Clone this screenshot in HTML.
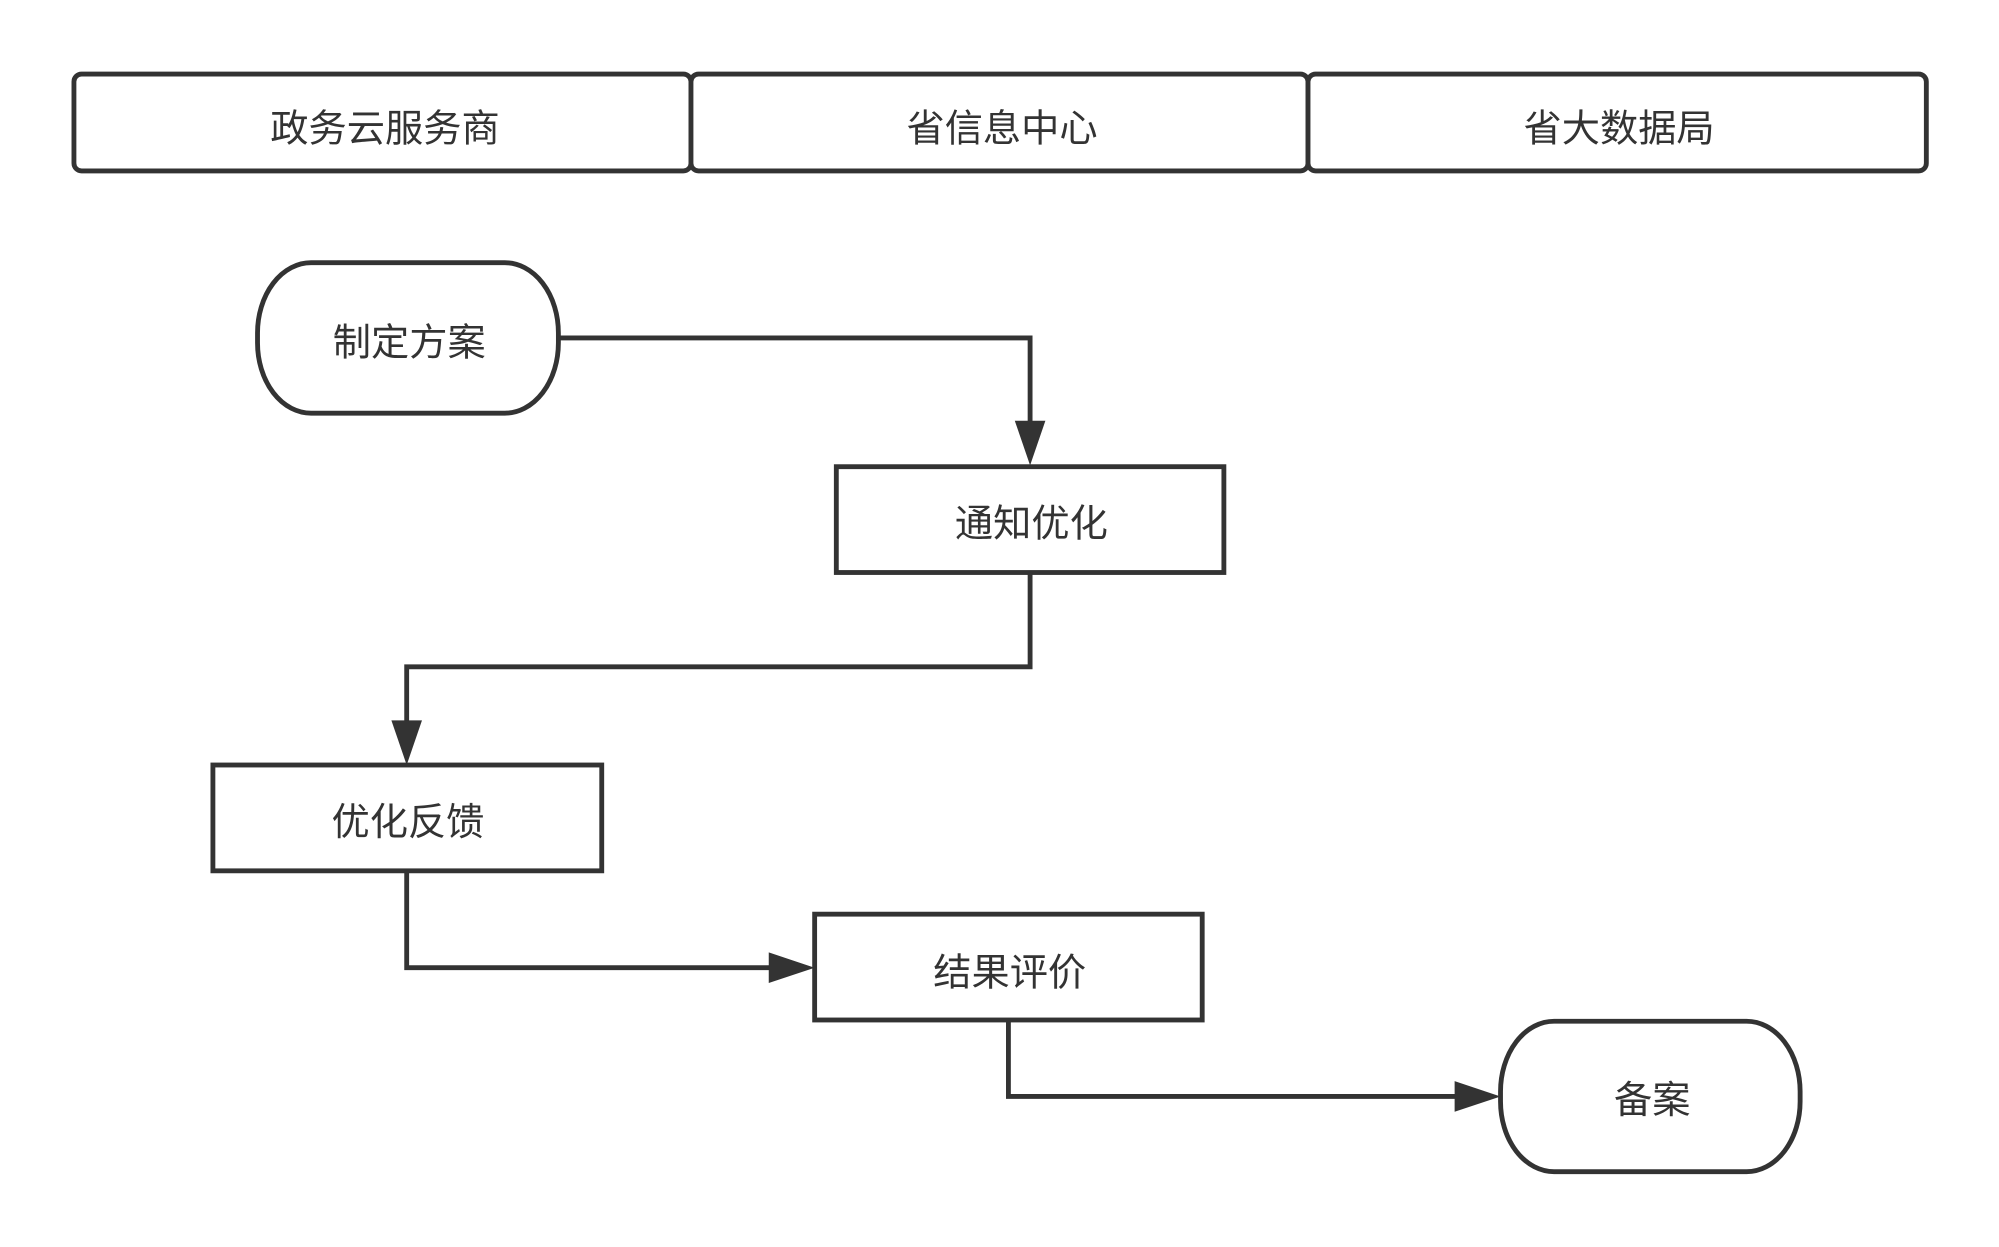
<!DOCTYPE html>
<html><head><meta charset="utf-8"><style>
html,body{margin:0;padding:0;background:#fff;}
svg{display:block;}
text{font-family:"Liberation Sans","Noto Sans CJK SC",sans-serif;fill:#333;font-size:30px;text-anchor:middle;dominant-baseline:central;}
</style></head><body>
<svg width="1999" height="1247" viewBox="0 0 1568 978" xmlns="http://www.w3.org/2000/svg">
<g fill="#fff" stroke="#333" stroke-width="3.8">
<rect x="58" y="58" width="484" height="76" rx="6"/>
<rect x="542" y="58" width="484" height="76" rx="6"/>
<rect x="1026" y="58" width="485" height="76" rx="6"/>
<rect x="202" y="206" width="236" height="118" rx="42" ry="55"/>
<rect x="656" y="366" width="304" height="83"/>
<rect x="167" y="600" width="305" height="83"/>
<rect x="639" y="717" width="304" height="83"/>
<rect x="1177" y="801" width="235" height="118" rx="42" ry="55"/>
</g>
<g fill="none" stroke="#333" stroke-width="3.8">
<polyline points="438,265 808,265 808,335"/>
<polyline points="808,449 808,523 319,523 319,568"/>
<polyline points="319,683 319,759 606,759"/>
<polyline points="791,800 791,860 1144,860"/>
</g>
<g fill="#333">
<polygon points="796,330 820,330 808,365"/>
<polygon points="307,565 331,565 319,600"/>
<polygon points="603,747 603,771 639,759"/>
<polygon points="1141,848 1141,872 1177,860"/>
</g>
<text x="302" y="101">政务云服务商</text>
<text x="786" y="101">省信息中心</text>
<text x="1270" y="101">省大数据局</text>
<text x="321" y="269">制定方案</text>
<text x="809" y="411">通知优化</text>
<text x="320" y="645">优化反馈</text>
<text x="792" y="763">结果评价</text>
<text x="1296" y="863">备案</text>
</svg>
</body></html>
